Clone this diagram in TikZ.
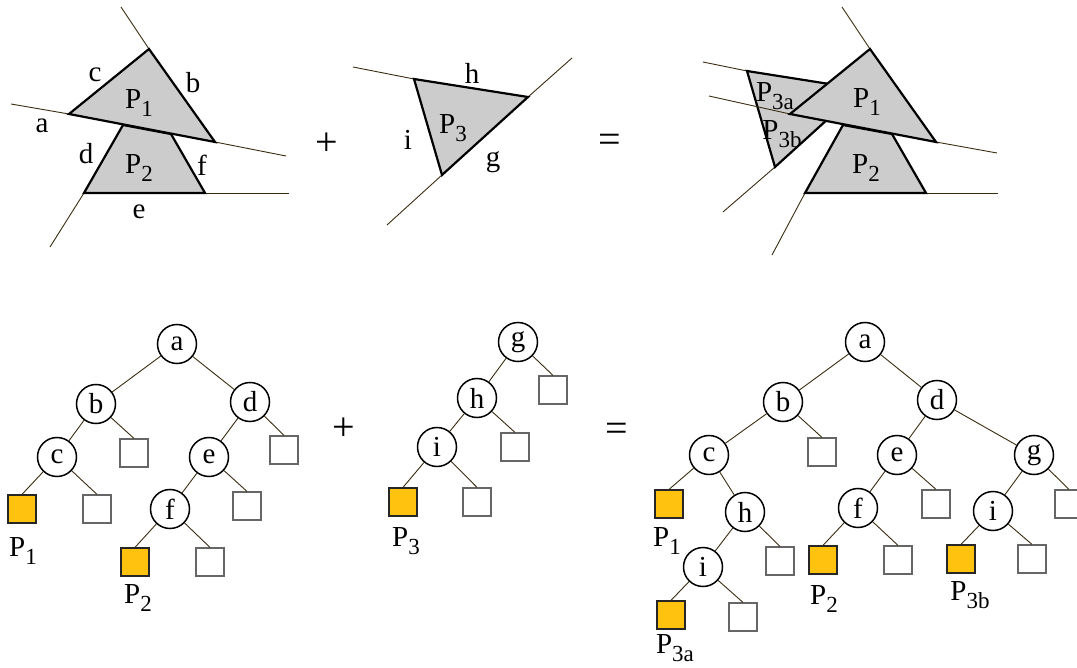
\documentclass[tikz,border=0pt]{standalone}
\usepackage{fontspec}
\setmainfont{Liberation Serif}
\newcommand\sbs[1]{\raisebox{-0.3em}{\fontsize{23}{23}\selectfont #1}}
\definecolor{polyg}{HTML}{CCCCCC}
\definecolor{leafy}{HTML}{FFC20E}
\definecolor{linec}{HTML}{3A2C10}
\definecolor{boxg}{HTML}{666666}
\begin{document}
\begin{tikzpicture}[x=1pt,y=-1pt,font=\fontsize{29}{32}\selectfont,
  ext/.style={line width=0.9pt,draw=linec},
  poly/.style={fill=polyg,draw=black,line width=2.2pt,line join=miter},
  inn/.style={circle,draw=black,line width=1.5pt,minimum size=39pt,inner sep=0pt,fill=white},
  leaf/.style={rectangle,draw=boxg,line width=1.2pt,minimum size=28pt,inner sep=0pt,fill=white},
  pleaf/.style={leaf,fill=leafy,draw=black!85},
  edge/.style={draw=linec,line width=0.9pt},
  lab/.style={inner sep=0pt},
  op/.style={inner sep=0pt,font=\fontsize{40}{40}\selectfont}]
\useasboundingbox (0,0) rectangle (1077,668);

% ---------- top left: P1, P2 ----------
\coordinate (p1t) at (149,49);
\coordinate (p1l) at (69,114);
\coordinate (p1r) at (215,142);
\coordinate (p2a) at (123,125);
\coordinate (p2b) at (171,134);
\coordinate (p2c) at (205,193);
\coordinate (p2d) at (84,193);
\draw[ext] (121,7) -- (p1t);
\draw[ext] (11,104) -- (p1l);
\draw[ext] (p1r) -- (286,156);
\draw[ext] (50,247) -- (p2d);
\draw[ext] (p2c) -- (289,193);
\draw[poly] (p2a) -- (p2b) -- (p2c) -- (p2d) -- cycle;
\draw[poly] (p1t) -- (p1l) -- (p1r) -- cycle;
\node[lab] (lc) at (95,75) {c};
\node[lab] (lb) at (193,83) {b};
\node[lab] (la) at (42,126) {a};
\node[lab] (ld) at (86,154) {d};
\node[lab] (lf) at (202,165) {f};
\node[lab] (le) at (139,212) {e};
\node[lab] (lP1) at (139,103) {P\sbs{1}};
\node[lab] (lP2) at (139,168) {P\sbs{2}};

\node[op] (plus1) at (327,144) {+};

% ---------- top middle: P3 ----------
\coordinate (p3a) at (414,79);
\coordinate (p3b) at (528,97);
\coordinate (p3c) at (442,175);
\draw[ext] (353,67) -- (p3a);
\draw[ext] (387,225) -- (p3c);
\draw[ext] (p3b) -- (572,58);
\draw[poly] (p3a) -- (p3b) -- (p3c) -- cycle;
\node[lab] (lh) at (472,73) {h};
\node[lab] (li) at (408,140) {i};
\node[lab] (lg) at (493,162) {g};
\node[lab] (lP3) at (453,128) {P\sbs{3}};

\node[op] (eq1) at (610,143) {=};

% ---------- top right: result ----------
\coordinate (q1t) at (870,49);
\coordinate (q1l) at (790,114);
\coordinate (q1r) at (936,142);
\coordinate (q2a) at (843,125);
\coordinate (q2b) at (892,134);
\coordinate (q2c) at (926,193);
\coordinate (q2d) at (805,193);
\coordinate (q3a) at (747,71);
\coordinate (q3b) at (861,89);
\coordinate (q3c) at (775,167);
\draw[ext] (703,62) -- (q3a);
\draw[ext] (723,212) -- (q3c);
\draw[ext] (842,7) -- (q1t);
\draw[ext] (q1r) -- (997,153);
\draw[ext] (q2c) -- (998,193);
\draw[ext] (772,255) -- (q2d);
\draw[poly] (q3a) -- (q3b) -- (q3c) -- cycle;
\draw[ext] (709,96) -- (q1l);
\draw[poly] (q2a) -- (q2b) -- (q2c) -- (q2d) -- cycle;
\draw[poly] (q1t) -- (q1l) -- (q1r) -- cycle;
\node[lab] (lP3a) at (775,96) {P\sbs{3a}};
\node[lab] (lP3b) at (782,134) {P\sbs{3b}};
\node[lab] (lQ1) at (867,102) {P\sbs{1}};
\node[lab] (lQ2) at (866,168) {P\sbs{2}};

% ---------- bottom left tree ----------
\node[inn] (ta) at (177,344) {a};
\node[inn] (tb) at (96,404) {b};
\node[inn] (td) at (250,402) {d};
\node[inn] (tc) at (57,457) {c};
\node[leaf] (tbw) at (134,453) {};
\node[leaf] (tdw) at (284,450) {};
\node[inn] (te) at (209,457) {e};
\node[pleaf] (tcy) at (22,509) {};
\node[leaf] (tcw) at (97,509) {};
\node[inn] (tf) at (170,509) {f};
\node[leaf] (tew) at (247,506) {};
\node[pleaf] (tfy) at (135,562) {};
\node[leaf] (tfw) at (210,562) {};
\draw[edge] (ta) -- (tb);
\draw[edge] (ta) -- (td);
\draw[edge] (tb) -- (tc);
\draw[edge] (tb) -- (tbw.north);
\draw[edge] (td) -- (te);
\draw[edge] (td) -- (tdw.north);
\draw[edge] (tc) -- (tcy.north);
\draw[edge] (tc) -- (tcw.north);
\draw[edge] (te) -- (tf);
\draw[edge] (te) -- (tew.north);
\draw[edge] (tf) -- (tfy.north);
\draw[edge] (tf) -- (tfw.north);
\node[lab] (tP1) at (23,551) {P\sbs{1}};
\node[lab] (tP2) at (138,598) {P\sbs{2}};

\node[op] (plus2) at (344,429) {+};

% ---------- bottom middle tree ----------
\node[inn] (mg) at (518,342) {g};
\node[leaf] (mgw) at (553,390) {};
\node[inn] (mh) at (477,398) {h};
\node[leaf] (mhw) at (515,447) {};
\node[inn] (mi) at (437,447) {i};
\node[pleaf] (miy) at (403,502) {};
\node[leaf] (miw) at (477,502) {};
\draw[edge] (mg) -- (mh);
\draw[edge] (mg) -- (mgw.north);
\draw[edge] (mh) -- (mi);
\draw[edge] (mh) -- (mhw.north);
\draw[edge] (mi) -- (miy.north);
\draw[edge] (mi) -- (miw.north);
\node[lab] (mP3) at (406,541) {P\sbs{3}};

\node[op] (eq2) at (617,432) {=};

% ---------- bottom right tree ----------
\node[inn] (ra) at (865,342) {a};
\node[inn] (rb) at (783,402) {b};
\node[inn] (rd) at (937,400) {d};
\node[inn] (rc) at (709,455) {c};
\node[leaf] (rbw) at (822,452) {};
\node[inn] (re) at (897,455) {e};
\node[inn] (rg) at (1034,455) {g};
\node[pleaf] (rcy) at (669,504) {};
\node[inn] (rh) at (745,512) {h};
\node[inn] (rf) at (858,508) {f};
\node[leaf] (rew) at (936,504) {};
\node[inn] (ri2) at (993,511) {i};
\node[leaf] (rgw) at (1069,504) {};
\node[inn] (ri1) at (703,567) {i};
\node[leaf] (rhw) at (780,561) {};
\node[pleaf] (rfy) at (823,560) {};
\node[leaf] (rfw) at (898,560) {};
\node[pleaf] (ri2y) at (961,559) {};
\node[leaf] (ri2w) at (1032,559) {};
\node[pleaf] (ri1y) at (671,615) {};
\node[leaf] (ri1w) at (743,617) {};
\draw[edge] (ra) -- (rb);
\draw[edge] (ra) -- (rd);
\draw[edge] (rb) -- (rc);
\draw[edge] (rb) -- (rbw.north);
\draw[edge] (rd) -- (re);
\draw[edge] (rd) -- (rg);
\draw[edge] (rc) -- (rcy.north);
\draw[edge] (rc) -- (rh);
\draw[edge] (re) -- (rf);
\draw[edge] (re) -- (rew.north);
\draw[edge] (rg) -- (ri2);
\draw[edge] (rg) -- (rgw.north);
\draw[edge] (rh) -- (ri1);
\draw[edge] (rh) -- (rhw.north);
\draw[edge] (rf) -- (rfy.north);
\draw[edge] (rf) -- (rfw.north);
\draw[edge] (ri2) -- (ri2y.north);
\draw[edge] (ri2) -- (ri2w.north);
\draw[edge] (ri1) -- (ri1y.north);
\draw[edge] (ri1) -- (ri1w.north);
\node[lab] (rP1) at (667,541) {P\sbs{1}};
\node[lab] (rP3a) at (675,648) {P\sbs{3a}};
\node[lab] (rP2) at (824,599) {P\sbs{2}};
\node[lab] (rP3b) at (970,595) {P\sbs{3b}};
\end{tikzpicture}
\end{document}
